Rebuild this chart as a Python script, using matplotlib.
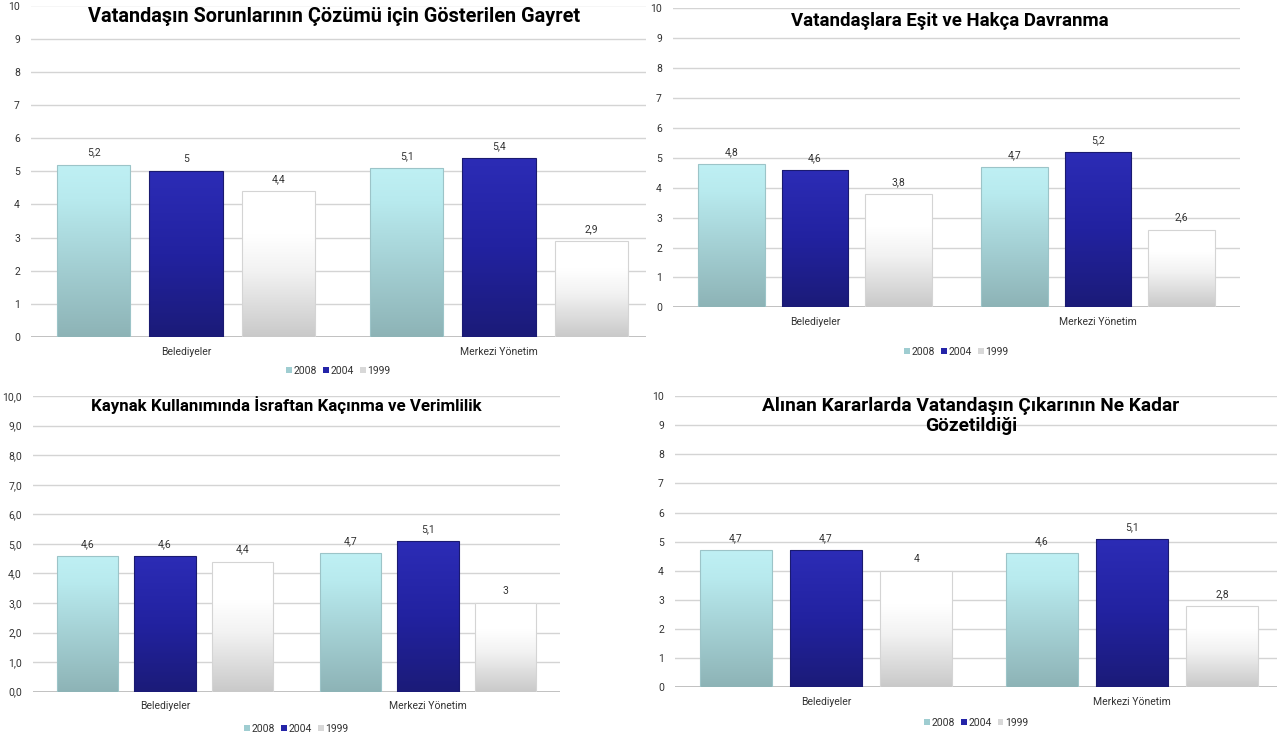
import matplotlib
matplotlib.use("Agg")
import matplotlib.pyplot as plt
import numpy as np
from matplotlib.patches import Patch
from matplotlib.colors import LinearSegmentedColormap

# ---------------- data ----------------
categories = ["Belediyeler", "Merkezi Yönetim"]
years = ["2008", "2004", "1999"]

titles = [
    "Vatandaşın Sorunlarının Çözümü için Gösterilen Gayret",
    "Vatandaşlara Eşit ve Hakça Davranma",
    "Kaynak Kullanımında İsraftan Kaçınma ve Verimlilik",
    "Alınan Kararlarda Vatandaşın Çıkarının Ne Kadar\nGözetildiği",
]

p1_2008 = [5.2, 5.1]
p1_2004 = [5.0, 5.4]
p1_1999 = [4.4, 2.9]

p2_2008 = [4.8, 4.7]
p2_2004 = [4.6, 5.2]
p2_1999 = [3.8, 2.6]

p3_2008 = [4.6, 4.7]
p3_2004 = [4.6, 5.1]
p3_1999 = [4.4, 3.0]

p4_2008 = [4.7, 4.6]
p4_2004 = [4.7, 5.1]
p4_1999 = [4.0, 2.8]

y_ticks = list(range(0, 11))

# ---------------- style ----------------
FONT = ["Roboto", "DejaVu Sans"]
plt.rcParams["font.family"] = FONT
W, H = 1280, 744
fig = plt.figure(figsize=(12.8, 7.44), dpi=100)
fig.patch.set_facecolor("white")

grad_colors = {
    "2008": [(0.0, "#8db3b6"), (0.5, "#a8d5d9"), (0.8, "#b8eaee"), (1.0, "#bff0f4")],
    "2004": [(0.0, "#1b1b78"), (0.5, "#2222a0"), (1.0, "#2c2cb6")],
    "1999": [(0.0, "#c9c9c9"), (0.45, "#f2f2f2"), (0.7, "#ffffff"), (1.0, "#ffffff")],
}
edge_colors = {"2008": "#9cc4c8", "2004": "#1a1a70", "1999": "#d4d4d4"}
legend_colors = {"2008": "#9fcdd1", "2004": "#2424a8", "1999": "#d8d8d8"}
cmaps = {k: LinearSegmentedColormap.from_list(k, v) for k, v in grad_colors.items()}


def fmt(v):
    s = f"{v:.1f}".replace(".", ",")
    if s.endswith(",0"):
        s = s[:-2]
    return s


def make_panel(left, right, y0, y10, c0, c1, series, tick_fmt, title, title_xy,
               title_size, legend_y):
    ax = fig.add_axes([left / W, 1 - y0 / H, (right - left) / W, (y0 - y10) / H])
    ax.patch.set_alpha(0)
    span = c1 - c0
    xlim = (-(c0 - left) / span, 1 + (right - c1) / span)
    x = np.arange(len(categories))
    width, step = 0.235, 0.295
    for i, (yr, vals) in enumerate(zip(years, series)):
        bars = ax.bar(x + (i - 1) * step, vals, width, facecolor="none",
                      edgecolor=edge_colors[yr], linewidth=0.8, zorder=3)
        for b, v in zip(bars, vals):
            grad = np.linspace(0, 1, 256).reshape(-1, 1)
            im = ax.imshow(grad, cmap=cmaps[yr], origin="lower", aspect="auto",
                           extent=[b.get_x(), b.get_x() + b.get_width(), 0, v],
                           zorder=2)
            im.set_clip_path(b)
            ax.annotate(fmt(v), (b.get_x() + b.get_width() / 2, v),
                        xytext=(0, 5), textcoords="offset points",
                        ha="center", va="bottom", fontsize=7.5, color="#333333")
    ax.set_xlim(*xlim)
    ax.set_ylim(0, 10)
    ax.set_yticks(y_ticks)
    ax.set_yticklabels([tick_fmt(t) for t in y_ticks])
    ax.set_xticks(x)
    ax.set_xticklabels(categories)
    ax.tick_params(axis="both", length=0, labelsize=7.5, labelcolor="#333333")
    ax.tick_params(axis="y", pad=8)
    ax.tick_params(axis="x", pad=7)
    ax.grid(axis="y", color="#d4d4d4", linewidth=1.0, zorder=0)
    ax.set_axisbelow(True)
    for s in ax.spines.values():
        s.set_visible(False)
    ax.axhline(0, color="#b8b8b8", linewidth=1.2, zorder=1)
    fig.text(title_xy[0] / W, 1 - title_xy[1] / H, title, ha="center", va="center",
             fontsize=title_size, fontweight="bold", color="black",
             family=["Roboto", "DejaVu Sans"], linespacing=1.2)
    handles = [Patch(facecolor=legend_colors[yr], edgecolor="none", label=yr) for yr in years]
    leg = fig.legend(handles=handles, loc="center",
                     bbox_to_anchor=(((left + right) / 2) / W, 1 - legend_y / H),
                     ncol=3, frameon=False, fontsize=7.5, handlelength=0.55,
                     handleheight=0.55, handletextpad=0.15, columnspacing=0.6,
                     borderpad=0)
    for t in leg.get_texts():
        t.set_color("#333333")
    return ax


make_panel(31, 646, 337, 5.5, 186, 499, [p1_2008, p1_2004, p1_1999],
           lambda t: f"{t}", titles[0], (334, 16), 14.3, 371)
make_panel(673, 1240, 307.3, 8.4, 815, 1098, [p2_2008, p2_2004, p2_1999],
           lambda t: f"{t}", titles[1], (950, 21), 13.4, 352)
make_panel(33, 560, 691.7, 396, 165, 428, [p3_2008, p3_2004, p3_1999],
           lambda t: f"{t:.1f}".replace(".", ","), titles[2], (286, 405), 12.2, 729)
make_panel(675, 1277, 687.3, 396, 826, 1132, [p4_2008, p4_2004, p4_1999],
           lambda t: f"{t}", titles[3], (971, 416), 13.8, 723)

fig.savefig("out.png", dpi=100, facecolor="white")
